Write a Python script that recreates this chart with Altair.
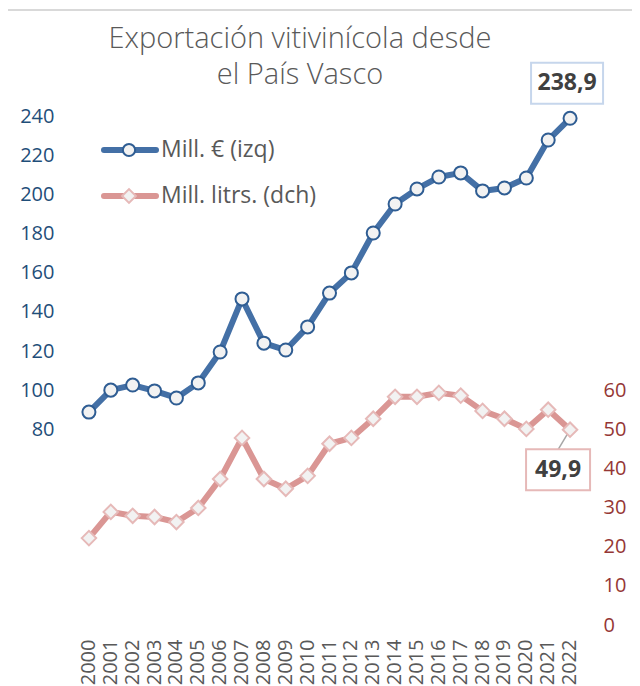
import altair as alt
import pandas as pd

years = [str(y) for y in range(2000, 2023)]
mill_eur = [88.8, 100.0, 102.6, 99.6, 96.0, 103.7, 119.5, 146.6, 124.0, 120.5, 132.3,
            149.6, 159.9, 180.3, 195.1, 202.8, 208.9, 211.0, 201.8, 203.3, 208.4, 227.8, 238.9]
mill_litros = [22.2, 28.9, 27.9, 27.6, 26.3, 29.9, 37.3, 47.8, 37.3, 34.8, 38.1,
               46.3, 47.8, 52.7, 58.3, 58.3, 59.3, 58.6, 54.7, 52.7, 50.1, 55.0, 49.9]
title_lines = ["Exportación vitivinícola desde", "el País Vasco"]
legend_labels = ["Mill. € (izq)", "Mill. litrs. (dch)"]
left_ticks = [80, 100, 120, 140, 160, 180, 200, 220, 240]
right_ticks = [0, 10, 20, 30, 40, 50, 60]

df = pd.DataFrame({"year": years, "eur": mill_eur, "lit": mill_litros})
df["eur_lbl"] = df["eur"].map(lambda v: f"{v:.1f}".replace(".", ","))
df["lit_lbl"] = df["lit"].map(lambda v: f"{v:.1f}".replace(".", ","))

BLUE = "#4470A6"
BLUE_EDGE = "#2F5D93"
PINK = "#DA9694"
PINK_EDGE = "#E6B9B8"
MARKER_FILL = "#F2F2F2"
GRAY = "#595959"
FONT = "Open Sans"

x_enc = alt.X("year:O", title=None,
              axis=alt.Axis(labelAngle=-90, labelFontSize=20, labelColor=GRAY, labelFont=FONT,
                            ticks=False, domain=False, labelPadding=14))

base = alt.Chart(df)

y_left = alt.Y("eur:Q", title=None,
               scale=alt.Scale(domain=[-20, 260], nice=False, zero=False),
               axis=alt.Axis(orient="left", values=left_ticks, labelFontSize=20,
                             labelColor="#1F4E79", labelFont=FONT, ticks=False, domain=False,
                             grid=False, labelPadding=24))
y_right = alt.Y("lit:Q", title=None,
                scale=alt.Scale(domain=[0, 140], nice=False),
                axis=alt.Axis(orient="right", values=right_ticks, labelFontSize=20,
                              labelColor="#953735", labelFont=FONT, ticks=False, domain=False,
                              grid=False, labelPadding=22))

last = alt.datum.year == "2022"

blue_line = base.mark_line(color=BLUE, strokeWidth=6, strokeJoin="round").encode(x=x_enc, y=y_left)
blue_pts = base.mark_point(shape="circle", filled=True, fill=MARKER_FILL, stroke=BLUE_EDGE,
                           strokeWidth=2, size=170, opacity=1).encode(x=x_enc, y=y_left)
blue_box = base.transform_filter(last).mark_point(
    shape="M-1,-0.57H1V0.57H-1Z", filled=True, fill="white", stroke="#C6D6EC",
    strokeWidth=2, size=5184, opacity=1, xOffset=-3, yOffset=-35).encode(x=x_enc, y=y_left)
blue_txt = base.transform_filter(last).mark_text(
    font=FONT, fontSize=23, fontWeight="bold", color="#404040", align="center",
    baseline="middle", dx=-3, dy=-35).encode(x=x_enc, y=y_left, text="eur_lbl:N")

left = alt.layer(blue_line, blue_pts, blue_box, blue_txt)

pink_line = base.mark_line(color=PINK, strokeWidth=6, strokeJoin="round").encode(x=x_enc, y=y_right)
leader = base.transform_filter(last).mark_rule(
    color="#A6A6A6", strokeWidth=1.5, x2Offset=-12, y2Offset=20).encode(
    x=x_enc, y=y_right, x2="year:O", y2="lit:Q")
pink_pts = base.mark_point(shape="diamond", filled=True, fill=MARKER_FILL, stroke=PINK_EDGE,
                           strokeWidth=2, size=210, opacity=1).encode(x=x_enc, y=y_right)
pink_box = base.transform_filter(last).mark_point(
    shape="M-1,-0.64H1V0.64H-1Z", filled=True, fill="white", stroke=PINK_EDGE,
    strokeWidth=2, size=4096, opacity=1, xOffset=-12, yOffset=40).encode(x=x_enc, y=y_right)
pink_txt = base.transform_filter(last).mark_text(
    font=FONT, fontSize=23, fontWeight="bold", color="#404040", align="center",
    baseline="middle", dx=-12, dy=40).encode(x=x_enc, y=y_right, text="lit_lbl:N")

right = alt.layer(pink_line, leader, pink_pts, pink_box, pink_txt)

# decorative elements: frame, title, legend
frame_left = alt.Chart().mark_rule(color="#D9D9D9", strokeWidth=2).encode(
    x=alt.value(-71), y=alt.value(-67), y2=alt.value(800))
frame_top = alt.Chart().mark_rule(color="#D9D9D9", strokeWidth=2).encode(
    x=alt.value(-71), x2=alt.value(700), y=alt.value(-67))
title = alt.Chart().mark_text(font=FONT, fontSize=29, fontWeight=300, color=GRAY,
                              align="center", baseline="alphabetic", lineHeight=36,
                              lineBreak="\n").encode(
    x=alt.value(222), y=alt.value(-29), text=alt.value("\n".join(title_lines)))
leg_blue_line = alt.Chart().mark_rule(color=BLUE, strokeWidth=6, strokeCap="round").encode(
    x=alt.value(26), x2=alt.value(78), y=alt.value(73))
leg_blue_pt = alt.Chart().mark_point(shape="circle", filled=True, fill=MARKER_FILL,
                                     stroke=BLUE_EDGE, strokeWidth=2, size=150, opacity=1).encode(
    x=alt.value(51), y=alt.value(73))
leg_pink_line = alt.Chart().mark_rule(color=PINK, strokeWidth=6, strokeCap="round").encode(
    x=alt.value(26), x2=alt.value(78), y=alt.value(119))
leg_pink_pt = alt.Chart().mark_point(shape="diamond", filled=True, fill=MARKER_FILL,
                                     stroke=PINK_EDGE, strokeWidth=2, size=190, opacity=1).encode(
    x=alt.value(51), y=alt.value(119))
leg_txt1 = alt.Chart().mark_text(font=FONT, fontSize=23, color=GRAY, align="left",
                                 baseline="middle").encode(
    x=alt.value(83), y=alt.value(73), text=alt.value(legend_labels[0]))
leg_txt2 = alt.Chart().mark_text(font=FONT, fontSize=23, color=GRAY, align="left",
                                 baseline="middle").encode(
    x=alt.value(83), y=alt.value(119), text=alt.value(legend_labels[1]))

chart = alt.layer(
    frame_left, frame_top, left, right, title, leg_blue_line, leg_blue_pt, leg_pink_line,
    leg_pink_pt, leg_txt1, leg_txt2
).resolve_scale(y="independent").properties(
    width=503, height=548,
    autosize=alt.AutoSizeParams(type="none"),
    padding={"left": 70, "top": 69, "right": 51, "bottom": 60},
).configure_view(stroke=None)

chart.save("out.html", embed_options={"renderer": "svg", "actions": False})
